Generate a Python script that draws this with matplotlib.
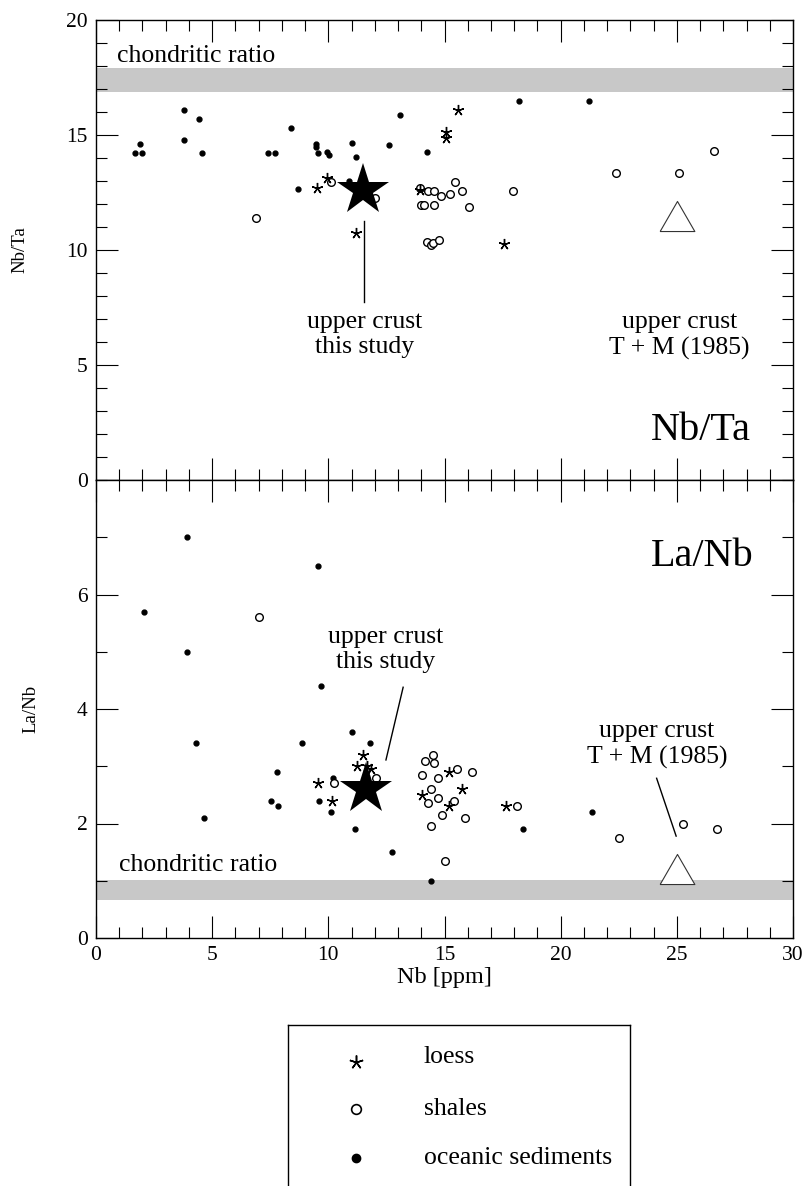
import matplotlib
matplotlib.use('Agg')
import matplotlib.pyplot as plt
from matplotlib.ticker import MultipleLocator

plt.rcParams['font.family'] = ['Liberation Serif', 'DejaVu Serif']

# ---- data: Nb/Ta vs Nb (top panel) ----
ocean_nb_top = [3.8, 4.45, 3.8, 1.9, 1.7, 2.0, 4.55, 7.4, 7.7, 8.4, 9.45, 9.45, 9.55,
                9.95, 10.05, 11.0, 11.2, 13.1, 12.6, 14.25, 8.7, 10.9, 18.2, 21.2]
ocean_nbta = [16.1, 15.7, 14.8, 14.6, 14.2, 14.2, 14.2, 14.2, 14.2, 15.3, 14.6, 14.5, 14.2,
              14.25, 14.15, 14.65, 14.05, 15.85, 14.55, 14.25, 12.65, 13.0, 16.5, 16.5]

loess_nb_top = [9.5, 9.95, 11.2, 13.95, 15.6, 15.05, 15.05, 17.55]
loess_nbta = [12.7, 13.15, 10.75, 12.6, 16.1, 15.15, 14.85, 10.25]

shale_nb_top = [10.1, 6.9, 12.0, 13.95, 14.3, 14.55, 14.85, 15.25, 15.45, 15.75, 16.05,
                14.0, 14.1, 14.55, 14.25, 14.4, 14.5, 14.75, 17.95, 22.4, 25.1, 26.6]
shale_nbta = [12.95, 11.4, 12.25, 12.7, 12.55, 12.55, 12.35, 12.45, 12.95, 12.55, 11.85,
              11.95, 11.95, 11.95, 10.35, 10.2, 10.3, 10.45, 12.55, 13.35, 13.35, 14.3]

# ---- data: La/Nb vs Nb (bottom panel) ----
ocean_nb_bot = [3.9, 9.55, 2.05, 3.9, 9.7, 4.3, 8.85, 11.0, 11.8, 7.8, 7.55, 7.85, 4.65,
                9.6, 10.2, 10.1, 11.15, 12.75, 14.4, 18.4, 21.35]
ocean_lanb = [7.0, 6.5, 5.7, 5.0, 4.4, 3.4, 3.4, 3.6, 3.4, 2.9, 2.4, 2.3, 2.1,
              2.4, 2.8, 2.2, 1.9, 1.5, 1.0, 1.9, 2.2]

loess_nb_bot = [9.55, 10.15, 11.5, 11.25, 11.65, 11.85, 14.05, 15.2, 15.75, 15.2, 17.65]
loess_lanb = [2.7, 2.4, 3.2, 3.0, 3.0, 2.95, 2.5, 2.9, 2.6, 2.3, 2.3]

shale_nb_bot = [7.0, 10.25, 12.05, 14.15, 14.5, 14.55, 14.05, 14.7, 15.55, 16.2, 14.4,
                14.7, 14.3, 15.4, 14.9, 15.9, 14.4, 15.0, 18.1, 22.5, 25.25, 26.75]
shale_lanb = [5.6, 2.7, 2.8, 3.1, 3.2, 3.05, 2.85, 2.8, 2.95, 2.9, 2.6,
              2.45, 2.35, 2.4, 2.15, 2.1, 1.95, 1.35, 2.3, 1.75, 2.0, 1.9]

# reference compositions
crust_this_study = {'nb': [11.5, 11.6], 'ratio': [12.6, 2.6]}
crust_tm1985 = {'nb': [25.0, 25.0], 'ratio': [11.5, 1.2]}
chondritic_nbta = (16.85, 17.9)
chondritic_lanb = (0.66, 1.01)

W, H = 806, 1186
fig = plt.figure(figsize=(W / 100, H / 100), dpi=100)

def px_axes(left, top, right, bottom):
    return fig.add_axes([left / W, (H - bottom) / H, (right - left) / W, (bottom - top) / H])

ax1 = px_axes(96, 20, 793, 480)
ax2 = px_axes(96, 480, 793, 938)

tri = [(-1, -0.866), (1, -0.866), (0, 0.866), (-1, -0.866)]
ast = (5, 2, 0)


def style(ax, ymaj, ymin):
    ax.set_xlim(0, 30)
    ax.xaxis.set_major_locator(MultipleLocator(5))
    ax.xaxis.set_minor_locator(MultipleLocator(1))
    ax.yaxis.set_major_locator(MultipleLocator(ymaj))
    ax.yaxis.set_minor_locator(MultipleLocator(ymin))
    ax.tick_params(which='both', direction='in', top=True, right=True, width=0.8,
                   labelsize=15.5, pad=6)
    ax.tick_params(which='major', length=16)
    ax.tick_params(which='minor', length=8)
    for s in ax.spines.values():
        s.set_linewidth(1.0)


def draw(ax, onb, oy, lnb, ly, snb, sy, i):
    ax.plot(onb, oy, 'o', ms=3.5, color='black', ls='none', zorder=3)
    ax.plot(snb, sy, 'o', ms=5.5, mfc='white', mec='black', mew=1.0, ls='none', zorder=3)
    ax.plot(lnb, ly, marker=ast, ms=8, color='black', mew=1.0, ls='none', zorder=4)
    ax.plot(crust_this_study['nb'][i], crust_this_study['ratio'][i], marker='*', ms=39,
            color='black', mew=0, ls='none', zorder=5)
    ax.plot(crust_tm1985['nb'][i], crust_tm1985['ratio'][i], marker=tri, ms=25,
            mfc='white', mec='#333333', mew=0.8, ls='none', zorder=5)


# ---- top panel ----
style(ax1, 5, 1)
ax1.set_ylim(0, 20)
ax1.tick_params(axis='x', labelbottom=False)
ax1.axhspan(*chondritic_nbta, color='#c8c8c8', lw=0, zorder=1)
draw(ax1, ocean_nb_top, ocean_nbta, loess_nb_top, loess_nbta, shale_nb_top, shale_nbta, 0)
ax1.text(0.9, 17.95, 'chondritic ratio', fontsize=18.5, va='bottom', ha='left')
ax1.text(28.2, 1.75, 'Nb/Ta', fontsize=29, ha='right', va='baseline')
ax1.plot([11.54, 11.54], [11.28, 7.72], color='black', lw=1.0)
ax1.text(11.55, 7.35, 'upper crust\nthis study', fontsize=18.5, ha='center', va='top',
         linespacing=1.2)
ax1.text(25.1, 7.35, 'upper crust\nT + M (1985)', fontsize=18.5, ha='center', va='top',
         linespacing=1.2)
ax1.set_ylabel('Nb/Ta', fontsize=13.5, labelpad=27)

# ---- bottom panel ----
style(ax2, 2, 1)
ax2.set_ylim(0, 8)
ax2.set_yticks([0, 2, 4, 6])
ax2.axhspan(*chondritic_lanb, color='#c8c8c8', lw=0, zorder=1)
draw(ax2, ocean_nb_bot, ocean_lanb, loess_nb_bot, loess_lanb, shale_nb_bot, shale_lanb, 1)
ax2.text(0.98, 1.08, 'chondritic ratio', fontsize=18.5, va='bottom', ha='left')
ax2.text(28.3, 6.5, 'La/Nb', fontsize=29, ha='right', va='baseline')
ax2.plot([12.48, 13.22], [3.11, 4.38], color='black', lw=1.0)
ax2.text(12.45, 5.45, 'upper crust\nthis study', fontsize=18.5, ha='center', va='top',
         linespacing=1.2)
ax2.plot([24.13, 24.97], [2.79, 1.78], color='black', lw=1.0)
ax2.text(24.15, 3.8, 'upper crust\nT + M (1985)', fontsize=18.5, ha='center', va='top',
         linespacing=1.2)
ax2.set_ylabel('La/Nb', fontsize=13.5, labelpad=27)
ax2.set_xlabel('Nb [ppm]', fontsize=17.5, labelpad=1)

# ---- legend box ----
lax = px_axes(288, 1025, 630, 1215)
lax.set_xlim(288, 630)
lax.set_ylim(1215, 1025)
lax.set_xticks([])
lax.set_yticks([])
for s in lax.spines.values():
    s.set_linewidth(1.0)
lax.plot(356, 1062, marker=ast, ms=10, color='black', mew=1.1, ls='none')
lax.plot(356, 1109, 'o', ms=7, mfc='white', mec='black', mew=1.2, ls='none')
lax.plot(356, 1158, 'o', ms=6, color='black', ls='none')
for yy, lab in zip([1057, 1109, 1158], ['loess', 'shales', 'oceanic sediments']):
    lax.text(424, yy, lab, fontsize=18.5, va='center', ha='left')

fig.savefig('out.png', dpi=100)
